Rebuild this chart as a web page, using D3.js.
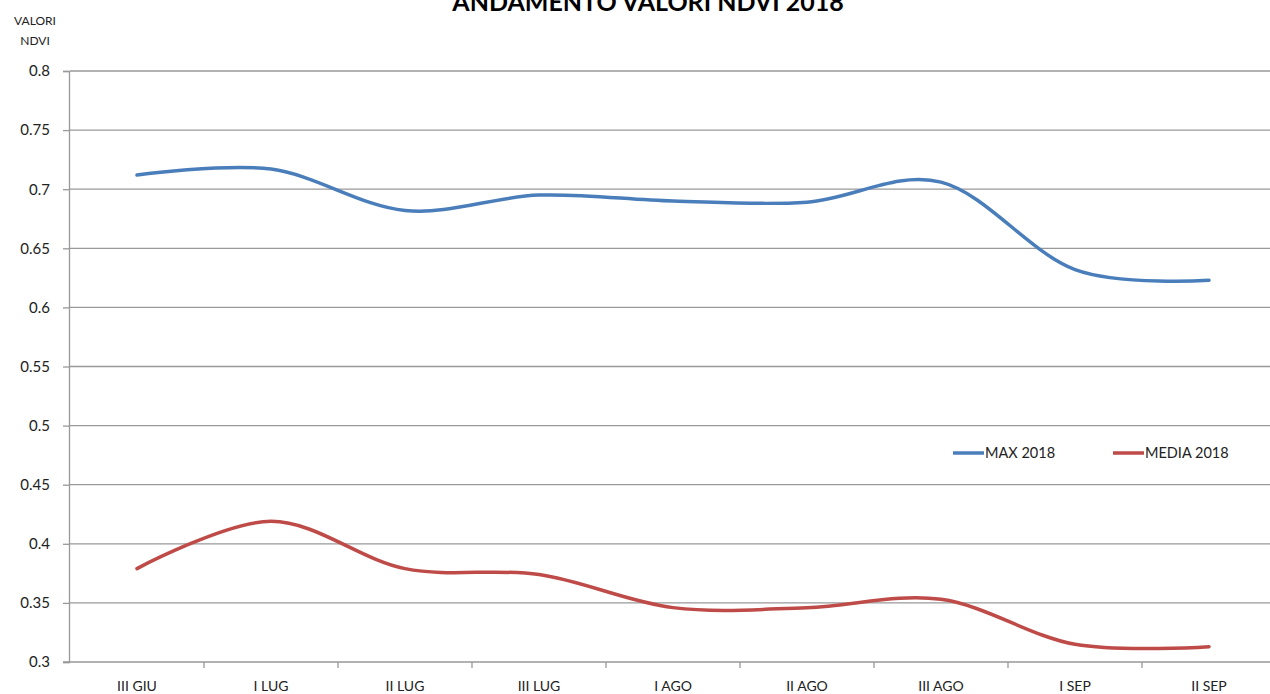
<!DOCTYPE html>
<html><head><meta charset="utf-8">
<script src="https://cdn.jsdelivr.net/npm/d3@7/dist/d3.min.js"></script>
<style>body{margin:0;background:#fff;overflow:hidden}svg{display:block}</style>
</head><body>
<svg id="c" width="1270" height="694"></svg>
<script>
const categories = ["III GIU","I LUG","II LUG","III LUG","I AGO","II AGO","III AGO","I SEP","II SEP"];
const maxValues = [0.712,0.717,0.682,0.695,0.690,0.689,0.706,0.632,0.623];
const mediaValues = [0.379,0.419,0.379,0.374,0.346,0.346,0.353,0.315,0.313];
const yTicks = [0.3,0.35,0.4,0.45,0.5,0.55,0.6,0.65,0.7,0.75,0.8];
const seriesNames = ["MAX 2018","MEDIA 2018"];
const colors = ["#4a7ebb","#be4b48"];

(function(){
const svg = d3.select("#c");
const font = "Lato, 'Open Sans', sans-serif";
const left = 70, bandW = 134, plotTop = 71, plotBottom = 662;
const x = d3.scaleBand().domain(categories).range([left, left + bandW*categories.length]);
const y = d3.scaleLinear().domain([0.3,0.8]).range([plotBottom, plotTop]);

// gridlines
svg.append("g").selectAll("line").data(yTicks.slice(1)).join("line")
  .attr("x1", left).attr("x2", 1280).attr("y1", d=>y(d)).attr("y2", d=>y(d))
  .attr("stroke", "#999").attr("stroke-width", 1.3);

// y axis
const ya = svg.append("g").attr("transform", `translate(${left-1},0)`)
  .call(d3.axisLeft(y).tickValues(yTicks).tickSize(6).tickPadding(13).tickFormat(d=>String(+d.toFixed(2))));
ya.select(".domain").attr("stroke","#999").attr("stroke-width",1.3);
ya.selectAll(".tick line").attr("stroke","#999").attr("stroke-width",1.3);
ya.selectAll(".tick text").attr("font-family",font).attr("font-size",15).attr("fill","#222");

// x axis
const xa = svg.append("g").attr("transform", `translate(0,${plotBottom})`)
  .call(d3.axisBottom(x).tickSize(0).tickPadding(19));
xa.select(".domain").attr("stroke","#999").attr("stroke-width",1.3).attr("d", `M${left-7},0H1280`);
xa.selectAll(".tick text").attr("font-family",font).attr("font-size",14).attr("fill","#222");
svg.append("g").selectAll("line").data(categories.slice(1)).join("line")
  .attr("x1", d=>x(d)).attr("x2", d=>x(d)).attr("y1", plotBottom).attr("y2", plotBottom+6)
  .attr("stroke","#999").attr("stroke-width",1.3);

// lines
const line = d3.line().x((d,i)=>x(categories[i]) + x.bandwidth()/2).y(d=>y(d)).curve(d3.curveCatmullRom.alpha(0));
[maxValues, mediaValues].forEach((vals,i)=>{
  svg.append("path").attr("d", line(vals)).attr("fill","none")
    .attr("stroke", colors[i]).attr("stroke-width",3.5).attr("stroke-linecap","round");
});

// legend
const lg = [953,1113];
lg.forEach((px,i)=>{
  svg.append("line").attr("x1",px).attr("x2",px+31).attr("y1",453).attr("y2",453)
    .attr("stroke",colors[i]).attr("stroke-width",3.5);
  svg.append("text").attr("x",px+32).attr("y",458).attr("font-family",font).attr("font-size",14.5)
    .attr("fill","#222").text(seriesNames[i]);
});

// title
svg.append("text").attr("x",648).attr("y",11).attr("text-anchor","middle")
  .attr("font-family",font).attr("font-weight","bold").attr("font-size",25).attr("fill","#000")
  .text("ANDAMENTO VALORI NDVI 2018");
// y axis title
svg.append("text").attr("x",35).attr("y",25).attr("text-anchor","middle")
  .attr("font-family",font).attr("font-size",12).attr("fill","#222").text("VALORI");
svg.append("text").attr("x",35).attr("y",45).attr("text-anchor","middle")
  .attr("font-family",font).attr("font-size",12).attr("fill","#222").text("NDVI");
})();
</script>
</body></html>
